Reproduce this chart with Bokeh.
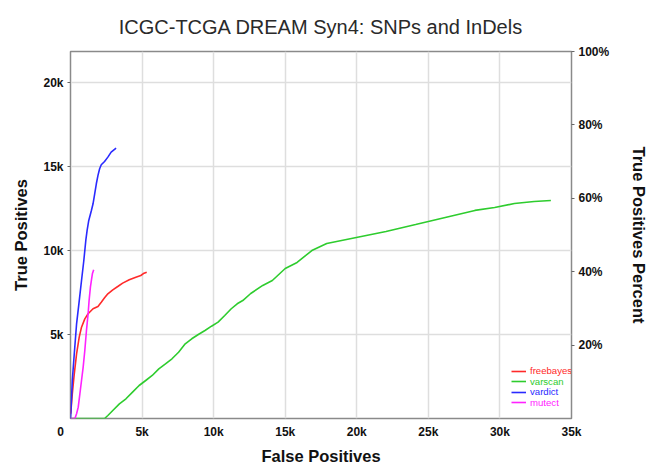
from bokeh.plotting import figure
from bokeh.models import (Range1d, LinearAxis, FixedTicker, Legend, LegendItem, Title)
from bokeh.embed import file_html
from bokeh.resources import INLINE

# ---- data ----
freebayes_fp = [14, 126, 264, 425, 609, 770, 1000, 1230, 1575, 1920, 2150, 2380, 2610, 2955, 3300, 3645, 4105, 4565, 4910, 5140, 5325]
freebayes_tp = [280, 1470, 2664, 3856, 4846, 5442, 5939, 6240, 6538, 6675, 6930, 7190, 7430, 7670, 7867, 8066, 8265, 8423, 8523, 8662, 8722]

varscan_fp = [0, 1000, 2380, 2610, 2955, 3415, 3875, 4335, 4795, 5255, 5710, 6170, 6635, 7090, 7550, 8015, 8470, 8930, 9395, 9850, 10310, 10775, 11230, 11645, 12035, 12590, 13430, 14100, 15000, 15830, 16860, 17900, 19970, 22040, 24110, 26180, 28250, 29630, 31010, 32390, 33560]
varscan_tp = [0, 0, 0, 180, 477, 875, 1174, 1570, 1967, 2265, 2563, 2960, 3260, 3558, 3950, 4450, 4750, 5006, 5245, 5500, 5740, 6140, 6540, 6836, 7030, 7450, 7930, 8225, 8940, 9300, 10010, 10430, 10790, 11145, 11560, 11980, 12400, 12575, 12810, 12930, 12990]

vardict_fp = [0, 34, 126, 264, 425, 586, 770, 931, 1069, 1161, 1276, 1460, 1575, 1690, 1805, 1920, 2035, 2150, 2380, 2610, 2840, 3185]
vardict_tp = [0, 477, 2265, 3855, 5643, 6836, 8225, 9417, 10610, 11205, 11800, 12397, 12795, 13392, 13988, 14485, 14882, 15120, 15318, 15575, 15873, 16110]

mutect_fp = [34, 310, 425, 540, 655, 770, 885, 1000, 1115, 1230, 1299, 1391, 1460, 1529, 1621]
mutect_tp = [0, 0, 280, 675, 1470, 2265, 3060, 4053, 5245, 6240, 7033, 7827, 8225, 8623, 8860]

series_names = ["freebayes", "varscan", "vardict", "mutect"]
series_colors = ["#ff2a2a", "#2ecc2e", "#2a2aff", "#ff22ff"]

x_ticks = [0, 5000, 10000, 15000, 20000, 25000, 30000, 35000]
x_tick_labels = ["0\u00a0\u00a0\u00a0\u00a0\u00a0\u00a0", "5k", "10k", "15k", "20k", "25k", "30k", "35k"]
y_ticks = [5000, 10000, 15000, 20000]
y_tick_labels = ["5k", "10k", "15k", "20k"]
pct_ticks = [20, 40, 60, 80, 100]
pct_tick_labels = ["20%", "40%", "60%", "80%", "100%"]

X_MAX = 35000
Y_MAX = 21870

FONT = "Liberation Sans"

p = figure(width=651, height=469, output_backend="svg", toolbar_location=None,
           x_range=Range1d(0, X_MAX), y_range=Range1d(0, Y_MAX),
           min_border_left=70, min_border_right=73, min_border_top=51, min_border_bottom=51,
           background_fill_color="white", border_fill_color="white")

p.title = Title(text="ICGC-TCGA DREAM Syn4: SNPs and InDels", align="center",
                text_font=FONT, text_font_size="20px", text_font_style="normal",
                text_color="#2a2a2a", standoff=27)

p.outline_line_color = "#8a8a8a"
p.outline_line_width = 1.5

# grids
p.xgrid.ticker = FixedTicker(ticks=x_ticks[1:])
p.ygrid.ticker = FixedTicker(ticks=y_ticks)
for g in (p.xgrid, p.ygrid):
    g.grid_line_color = "#dedede"
    g.grid_line_width = 1.5

def style_axis(ax):
    ax.axis_line_color = None
    ax.major_tick_line_color = "#666666"
    ax.major_tick_out = 3
    ax.major_tick_in = 0
    ax.minor_tick_line_color = None
    ax.major_label_text_font = FONT
    ax.major_label_text_font_style = "bold"
    ax.major_label_text_font_size = "12px"
    ax.major_label_text_color = "#111111"
    ax.major_label_standoff = 4
    ax.axis_label_text_font = FONT
    ax.axis_label_text_font_style = "bold"
    ax.axis_label_text_font_size = "16.5px"
    ax.axis_label_text_color = "#111111"

xa = p.xaxis[0]
xa.ticker = FixedTicker(ticks=x_ticks)
xa.major_label_overrides = dict(zip(x_ticks, x_tick_labels))
style_axis(xa)
xa.major_tick_out = 0
xa.major_label_standoff = 6
xa.axis_label = "False Positives"
xa.axis_label_standoff = 5

ya = p.yaxis[0]
ya.ticker = FixedTicker(ticks=y_ticks)
ya.major_label_overrides = dict(zip(y_ticks, y_tick_labels))
style_axis(ya)
ya.axis_label = "True Positives"
ya.axis_label_standoff = 10

p.extra_y_ranges = {"pct": Range1d(0, 100)}
ra = LinearAxis(y_range_name="pct", ticker=FixedTicker(ticks=pct_ticks))
ra.major_label_overrides = dict(zip(pct_ticks, pct_tick_labels))
style_axis(ra)
ra.axis_label = "True Positives Percent"
ra.axis_label_standoff = 18
p.add_layout(ra, "right")

# lines
renderers = []
for xs, ys, c in [(freebayes_fp, freebayes_tp, series_colors[0]),
                  (varscan_fp, varscan_tp, series_colors[1]),
                  (vardict_fp, vardict_tp, series_colors[2]),
                  (mutect_fp, mutect_tp, series_colors[3])]:
    r = p.line(xs, ys, line_color=c, line_width=1.6)
    renderers.append(r)

# legend: one legend per entry, so each label can take its series colour
for i, (name, c, r) in enumerate(zip(series_names, series_colors, renderers)):
    lg = Legend(items=[LegendItem(label=name, renderers=[r])],
                location=(441, 42 - i * 10.5),
                padding=0, margin=0, spacing=0,
                glyph_width=15, glyph_height=10, label_height=10,
                label_standoff=4,
                label_text_font=FONT, label_text_font_size="9.6px",
                label_text_color=c,
                border_line_color=None, background_fill_alpha=0)
    p.add_layout(lg)

open("out.html", "w").write(file_html(p, INLINE))
